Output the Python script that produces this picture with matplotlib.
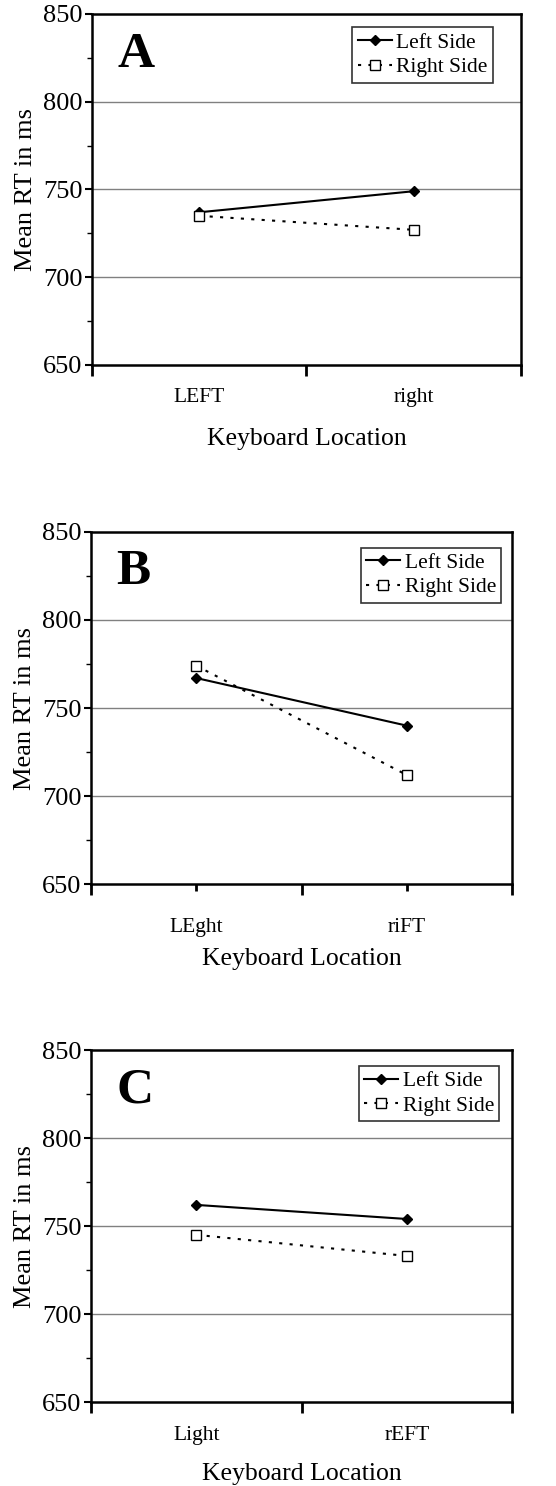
import matplotlib
matplotlib.use("Agg")
import matplotlib.pyplot as plt
from matplotlib.ticker import MultipleLocator

plt.rcParams['font.family'] = ['Liberation Serif', 'DejaVu Serif']

panels = ["A", "B", "C"]
tick_labels = [["LEFT", "right"], ["LEght", "riFT"], ["Light", "rEFT"]]
left_side = [[737, 749], [767, 740], [762, 754]]
right_side = [[735, 727], [774, 712], [745, 733]]

# axes boxes in figure fractions: left, bottom, width, height
boxes = [(0.1655, 0.7544, 0.7715, 0.2362),
         (0.1637, 0.4049, 0.7572, 0.2373),
         (0.1637, 0.0565, 0.7572, 0.2369)]
label_pads = [16.5, 19.5, 17]
xlabel_pads = [15.5, 8, 13]
legend_anchor = [(0.935, 0.962), (0.975, 0.955), (0.97, 0.955)]

fig = plt.figure(figsize=(5.56, 14.86), dpi=100)

for i in range(3):
  ax = fig.add_axes(boxes[i])
  x = [0, 1]
  ax.plot(x, left_side[i], color='black', lw=1.5, marker='D', ms=5,
          mfc='black', mec='black', label='Left Side')
  ax.plot(x, right_side[i], color='black', lw=1.5, ls=(0, (1.5, 3.5)),
          marker='s', ms=7, mfc='white', mec='black', mew=1,
          label='Right Side')

  ax.set_xlim(-0.5, 1.5)
  ax.set_ylim(650, 850)
  ax.yaxis.set_major_locator(MultipleLocator(50))
  ax.yaxis.set_minor_locator(MultipleLocator(25))
  ax.set_xticks([-0.5, 0.5, 1.5])
  ax.set_xticklabels([])
  ax.set_xticks([0, 1], tick_labels[i], minor=True)
  ax.tick_params(axis='x', which='minor', length=5 if panels[i] == "B" else 0,
                 width=2, labelsize=15.5, pad=label_pads[i])
  ax.tick_params(axis='x', which='major', length=8, width=2)
  ax.tick_params(axis='y', which='major', length=5, width=1.5, labelsize=19, pad=2)
  ax.tick_params(axis='y', which='minor', length=3.5, width=1)

  for y in [700, 750, 800]:
    ax.axhline(y, color='#808080', lw=1, zorder=0)

  for s in ax.spines.values():
    s.set_linewidth(1.8)

  ax.set_ylabel("Mean RT in ms", fontsize=19, labelpad=4)
  ax.set_xlabel("Keyboard Location", fontsize=18.5, labelpad=xlabel_pads[i])

  ax.text(0.06, 0.95, panels[i], transform=ax.transAxes, fontsize=37,
          fontweight='bold', va='top', ha='left')

  leg = ax.legend(loc='upper right', bbox_to_anchor=legend_anchor[i],
                  fontsize=15.5, frameon=True, fancybox=False, handlelength=1.6,
                  handletextpad=0.2, borderpad=0.25, labelspacing=0.2,
                  borderaxespad=0)
  leg.get_frame().set_edgecolor('black')
  leg.get_frame().set_linewidth(1.2)

fig.savefig("out.png", dpi=100)
